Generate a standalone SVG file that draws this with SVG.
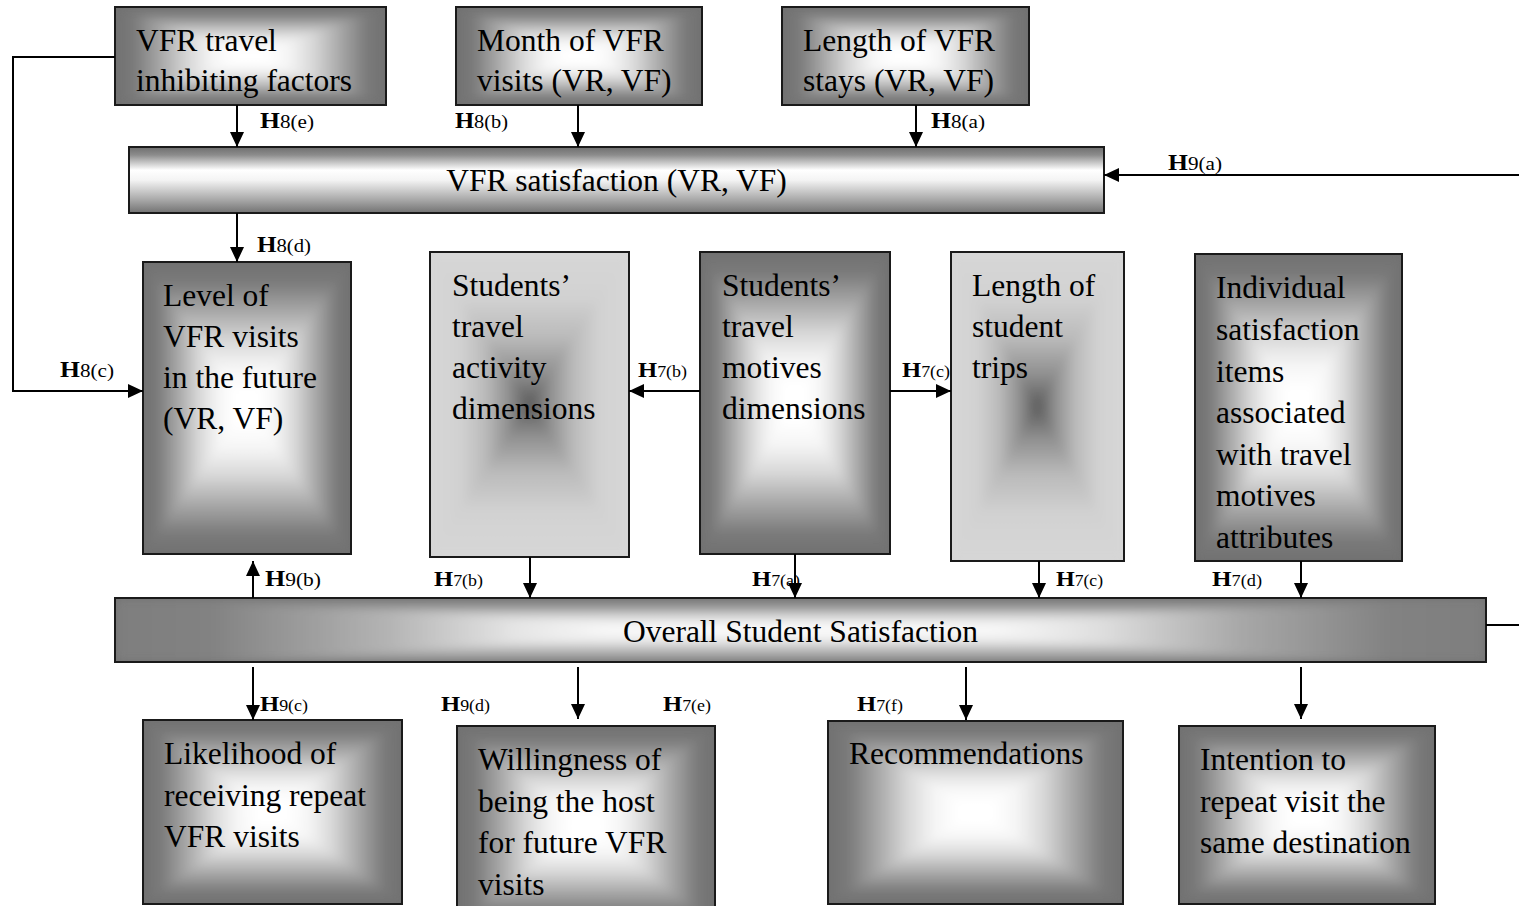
<svg xmlns="http://www.w3.org/2000/svg" width="1519" height="906" viewBox="0 0 1519 906">
  <style>
    .frame { fill: none; stroke: #1a1a1a; stroke-width: 2; }
    .dk { mix-blend-mode: darken; }
    .lt { mix-blend-mode: lighten; }
    .shade { isolation: isolate; filter: url(#soft); }
    .base-d { fill: #717171; }
    .base-l { fill: #d6d6d6; }
    .t { font-family: "Liberation Serif", "Times New Roman", serif; font-size: 31.5px; fill: #000; }
    .lbl { font-family: "Liberation Serif", "Times New Roman", serif; font-size: 19px; fill: #000; }
    .lbl.s { font-size: 16px; }
    .hb { font-weight: bold; font-size: 23px; }
    .s .hb { font-size: 22px; }
    .edge { fill: none; stroke: #000; stroke-width: 2; }
  </style>
  <defs>
    <!-- softens the corners of the box shading, kept inside the box -->
    <filter id="soft" x="0" y="0" width="1" height="1">
      <feGaussianBlur in="SourceGraphic" stdDeviation="5" result="b"/>
      <feComposite in="b" in2="SourceGraphic" operator="in"/>
    </filter>
    <!-- dark edges, white centre (horizontal and vertical ramps combined with darken blend) -->
    <linearGradient id="gHd" x1="0" y1="0" x2="1" y2="0">
      <stop offset="0" stop-color="#717171"/>
      <stop offset="0.07" stop-color="#7a7a7a"/>
      <stop offset="0.17" stop-color="#a8a8a8"/>
      <stop offset="0.27" stop-color="#d8d8d8"/>
      <stop offset="0.36" stop-color="#f5f5f5"/>
      <stop offset="0.44" stop-color="#ffffff"/>
      <stop offset="0.56" stop-color="#ffffff"/>
      <stop offset="0.64" stop-color="#f5f5f5"/>
      <stop offset="0.73" stop-color="#d8d8d8"/>
      <stop offset="0.83" stop-color="#a8a8a8"/>
      <stop offset="0.93" stop-color="#7a7a7a"/>
      <stop offset="1" stop-color="#717171"/>
    </linearGradient>
    <linearGradient id="gVd" href="#gHd" x1="0" y1="0" x2="0" y2="1"/>
    <!-- light edges, dark centre (combined with lighten blend) -->
    <linearGradient id="gHl" x1="0" y1="0" x2="1" y2="0">
      <stop offset="0" stop-color="#d6d6d6"/>
      <stop offset="0.15" stop-color="#d2d2d2"/>
      <stop offset="0.28" stop-color="#bababa"/>
      <stop offset="0.4" stop-color="#8e8e8e"/>
      <stop offset="0.5" stop-color="#5a5a5a"/>
      <stop offset="0.6" stop-color="#8e8e8e"/>
      <stop offset="0.72" stop-color="#bababa"/>
      <stop offset="0.85" stop-color="#d2d2d2"/>
      <stop offset="1" stop-color="#d6d6d6"/>
    </linearGradient>
    <linearGradient id="gVl" href="#gHl" x1="0" y1="0" x2="0" y2="1"/>
    <!-- cylinder shading of the VFR satisfaction bar -->
    <linearGradient id="gBarTop" x1="0" y1="0" x2="0" y2="1">
      <stop offset="0" stop-color="#6e6e6e"/>
      <stop offset="0.12" stop-color="#8c8c8c"/>
      <stop offset="0.35" stop-color="#ffffff"/>
      <stop offset="0.5" stop-color="#f4f4f4"/>
      <stop offset="0.8" stop-color="#a8a8a8"/>
      <stop offset="1" stop-color="#727272"/>
    </linearGradient>
    <!-- overall satisfaction bar -->
    <linearGradient id="gBarH" x1="0" y1="0" x2="1" y2="0">
      <stop offset="0" stop-color="#7e7e7e"/>
      <stop offset="0.07" stop-color="#828282"/>
      <stop offset="0.2" stop-color="#b4b4b4"/>
      <stop offset="0.29" stop-color="#e4e4e4"/>
      <stop offset="0.36" stop-color="#f8f8f8"/>
      <stop offset="0.5" stop-color="#ffffff"/>
      <stop offset="0.64" stop-color="#f8f8f8"/>
      <stop offset="0.72" stop-color="#dedede"/>
      <stop offset="0.82" stop-color="#a8a8a8"/>
      <stop offset="0.93" stop-color="#828282"/>
      <stop offset="1" stop-color="#7e7e7e"/>
    </linearGradient>
    <linearGradient id="gBarV" x1="0" y1="0" x2="0" y2="1">
      <stop offset="0" stop-color="#7a7a7a"/>
      <stop offset="0.12" stop-color="#8c8c8c"/>
      <stop offset="0.25" stop-color="#c8c8c8"/>
      <stop offset="0.36" stop-color="#ececec"/>
      <stop offset="0.5" stop-color="#ffffff"/>
      <stop offset="0.68" stop-color="#e8e8e8"/>
      <stop offset="0.84" stop-color="#b0b0b0"/>
      <stop offset="1" stop-color="#858585"/>
    </linearGradient>
    <marker id="arr" markerUnits="userSpaceOnUse" markerWidth="15" markerHeight="14" refX="15" refY="7" orient="auto">
      <path d="M0,0 L15,7 L0,14 z" fill="#000"/>
    </marker>
  </defs>

  <rect width="1519" height="906" fill="#fff"/>

  <!-- top row -->
  <g id="n-inhibiting">
    <rect x="115" y="7" width="271" height="98" class="base-d"/>
    <g class="shade">
      <rect x="115" y="7" width="271" height="98" fill="url(#gHd)"/>
      <rect x="115" y="7" width="271" height="98" fill="url(#gVd)" class="dk"/>
    </g>
    <rect x="115" y="7" width="271" height="98" class="frame"/>
    <text class="t"><tspan x="136" y="51">VFR travel</tspan><tspan x="136" y="91">inhibiting factors</tspan></text>
  </g>
  <g id="n-month">
    <rect x="456" y="7" width="246" height="98" class="base-d"/>
    <g class="shade">
      <rect x="456" y="7" width="246" height="98" fill="url(#gHd)"/>
      <rect x="456" y="7" width="246" height="98" fill="url(#gVd)" class="dk"/>
    </g>
    <rect x="456" y="7" width="246" height="98" class="frame"/>
    <text class="t"><tspan x="477" y="51">Month of VFR</tspan><tspan x="477" y="91">visits (VR, VF)</tspan></text>
  </g>
  <g id="n-length-stays">
    <rect x="782" y="7" width="247" height="98" class="base-d"/>
    <g class="shade">
      <rect x="782" y="7" width="247" height="98" fill="url(#gHd)"/>
      <rect x="782" y="7" width="247" height="98" fill="url(#gVd)" class="dk"/>
    </g>
    <rect x="782" y="7" width="247" height="98" class="frame"/>
    <text class="t"><tspan x="803" y="51">Length of VFR</tspan><tspan x="803" y="91">stays (VR, VF)</tspan></text>
  </g>

  <g id="n-vfr-satisfaction">
    <rect x="129" y="147" width="975" height="66" fill="url(#gBarTop)"/>
    <rect x="129" y="147" width="975" height="66" class="frame"/>
    <text class="t" x="616.5" y="191" text-anchor="middle">VFR satisfaction (VR, VF)</text>
  </g>

  <!-- middle row -->
  <g id="n-level-future">
    <rect x="143" y="262" width="208" height="292" class="base-d"/>
    <g class="shade">
      <rect x="143" y="262" width="208" height="292" fill="url(#gHd)"/>
      <rect x="143" y="262" width="208" height="292" fill="url(#gVd)" class="dk"/>
    </g>
    <rect x="143" y="262" width="208" height="292" class="frame"/>
    <text class="t"><tspan x="163" y="306">Level of</tspan><tspan x="163" y="347">VFR visits</tspan><tspan x="163" y="388">in the future</tspan><tspan x="163" y="429">(VR, VF)</tspan></text>
  </g>
  <g id="n-activity">
    <rect x="430" y="252" width="199" height="305" class="base-l"/>
    <g class="shade">
      <rect x="430" y="252" width="199" height="305" fill="url(#gHl)"/>
      <rect x="430" y="252" width="199" height="305" fill="url(#gVl)" class="lt"/>
    </g>
    <rect x="430" y="252" width="199" height="305" class="frame"/>
    <text class="t"><tspan x="452" y="296">Students’</tspan><tspan x="452" y="337">travel</tspan><tspan x="452" y="378">activity</tspan><tspan x="452" y="419">dimensions</tspan></text>
  </g>
  <g id="n-motives">
    <rect x="700" y="252" width="190" height="302" class="base-d"/>
    <g class="shade">
      <rect x="700" y="252" width="190" height="302" fill="url(#gHd)"/>
      <rect x="700" y="252" width="190" height="302" fill="url(#gVd)" class="dk"/>
    </g>
    <rect x="700" y="252" width="190" height="302" class="frame"/>
    <text class="t"><tspan x="722" y="296">Students’</tspan><tspan x="722" y="337">travel</tspan><tspan x="722" y="378">motives</tspan><tspan x="722" y="419">dimensions</tspan></text>
  </g>
  <g id="n-trip-length">
    <rect x="951" y="252" width="173" height="309" class="base-l"/>
    <g class="shade">
      <rect x="951" y="252" width="173" height="309" fill="url(#gHl)"/>
      <rect x="951" y="252" width="173" height="309" fill="url(#gVl)" class="lt"/>
    </g>
    <rect x="951" y="252" width="173" height="309" class="frame"/>
    <text class="t"><tspan x="972" y="296">Length of</tspan><tspan x="972" y="337">student</tspan><tspan x="972" y="378">trips</tspan></text>
  </g>
  <g id="n-items">
    <rect x="1195" y="254" width="207" height="307" class="base-d"/>
    <g class="shade">
      <rect x="1195" y="254" width="207" height="307" fill="url(#gHd)"/>
      <rect x="1195" y="254" width="207" height="307" fill="url(#gVd)" class="dk"/>
    </g>
    <rect x="1195" y="254" width="207" height="307" class="frame"/>
    <text class="t"><tspan x="1216" y="298">Individual</tspan><tspan x="1216" y="340">satisfaction</tspan><tspan x="1216" y="382">items</tspan><tspan x="1216" y="423">associated</tspan><tspan x="1216" y="465">with travel</tspan><tspan x="1216" y="506">motives</tspan><tspan x="1216" y="548">attributes</tspan></text>
  </g>

  <g id="n-overall">
    <rect x="115" y="598" width="1371" height="64" class="base-d"/>
    <g class="shade">
      <rect x="115" y="598" width="1371" height="64" fill="url(#gBarH)"/>
      <rect x="115" y="598" width="1371" height="64" fill="url(#gBarV)" class="dk"/>
    </g>
    <rect x="115" y="598" width="1371" height="64" class="frame"/>
    <text class="t" x="800.5" y="642" text-anchor="middle">Overall Student Satisfaction</text>
  </g>

  <!-- outcomes -->
  <g id="n-likelihood">
    <rect x="143" y="720" width="259" height="184" class="base-d"/>
    <g class="shade">
      <rect x="143" y="720" width="259" height="184" fill="url(#gHd)"/>
      <rect x="143" y="720" width="259" height="184" fill="url(#gVd)" class="dk"/>
    </g>
    <rect x="143" y="720" width="259" height="184" class="frame"/>
    <text class="t"><tspan x="164" y="764">Likelihood of</tspan><tspan x="164" y="806">receiving repeat</tspan><tspan x="164" y="847">VFR visits</tspan></text>
  </g>
  <g id="n-willingness">
    <rect x="457" y="726" width="258" height="200" class="base-d"/>
    <g class="shade">
      <rect x="457" y="726" width="258" height="200" fill="url(#gHd)"/>
      <rect x="457" y="726" width="258" height="200" fill="url(#gVd)" class="dk"/>
    </g>
    <rect x="457" y="726" width="258" height="200" class="frame"/>
    <text class="t"><tspan x="478" y="770">Willingness of</tspan><tspan x="478" y="812">being the host</tspan><tspan x="478" y="853">for future VFR</tspan><tspan x="478" y="895">visits</tspan></text>
  </g>
  <g id="n-recommendations">
    <rect x="828" y="721" width="295" height="183" class="base-d"/>
    <g class="shade">
      <rect x="828" y="721" width="295" height="183" fill="url(#gHd)"/>
      <rect x="828" y="721" width="295" height="183" fill="url(#gVd)" class="dk"/>
    </g>
    <rect x="828" y="721" width="295" height="183" class="frame"/>
    <text class="t" x="849" y="764">Recommendations</text>
  </g>
  <g id="n-intention">
    <rect x="1179" y="726" width="256" height="178" class="base-d"/>
    <g class="shade">
      <rect x="1179" y="726" width="256" height="178" fill="url(#gHd)"/>
      <rect x="1179" y="726" width="256" height="178" fill="url(#gVd)" class="dk"/>
    </g>
    <rect x="1179" y="726" width="256" height="178" class="frame"/>
    <text class="t"><tspan x="1200" y="770">Intention to</tspan><tspan x="1200" y="812">repeat visit the</tspan><tspan x="1200" y="853">same destination</tspan></text>
  </g>

  <!-- hypothesis labels -->
  <g id="edge-labels">
    <text class="lbl" x="260" y="128" textLength="54" lengthAdjust="spacingAndGlyphs"><tspan class="hb">H</tspan>8(e)</text>
    <text class="lbl" x="455" y="128" textLength="53" lengthAdjust="spacingAndGlyphs"><tspan class="hb">H</tspan>8(b)</text>
    <text class="lbl" x="931" y="128" textLength="54" lengthAdjust="spacingAndGlyphs"><tspan class="hb">H</tspan>8(a)</text>
    <text class="lbl" x="1168" y="170" textLength="54" lengthAdjust="spacingAndGlyphs"><tspan class="hb">H</tspan>9(a)</text>
    <text class="lbl" x="257" y="252" textLength="54" lengthAdjust="spacingAndGlyphs"><tspan class="hb">H</tspan>8(d)</text>
    <text class="lbl" x="60" y="377" textLength="54" lengthAdjust="spacingAndGlyphs"><tspan class="hb">H</tspan>8(c)</text>
    <text class="lbl s" x="638" y="377" textLength="49" lengthAdjust="spacingAndGlyphs"><tspan class="hb">H</tspan>7(b)</text>
    <text class="lbl s" x="902" y="377" textLength="48" lengthAdjust="spacingAndGlyphs"><tspan class="hb">H</tspan>7(c)</text>
    <text class="lbl" x="265" y="586" textLength="56" lengthAdjust="spacingAndGlyphs"><tspan class="hb">H</tspan>9(b)</text>
    <text class="lbl s" x="434" y="586" textLength="49" lengthAdjust="spacingAndGlyphs"><tspan class="hb">H</tspan>7(b)</text>
    <text class="lbl s" x="752" y="586" textLength="48" lengthAdjust="spacingAndGlyphs"><tspan class="hb">H</tspan>7(a)</text>
    <text class="lbl s" x="1056" y="586" textLength="47" lengthAdjust="spacingAndGlyphs"><tspan class="hb">H</tspan>7(c)</text>
    <text class="lbl s" x="1212" y="586" textLength="50" lengthAdjust="spacingAndGlyphs"><tspan class="hb">H</tspan>7(d)</text>
    <text class="lbl s" x="260" y="711" textLength="48" lengthAdjust="spacingAndGlyphs"><tspan class="hb">H</tspan>9(c)</text>
    <text class="lbl s" x="441" y="711" textLength="49" lengthAdjust="spacingAndGlyphs"><tspan class="hb">H</tspan>9(d)</text>
    <text class="lbl s" x="663" y="711" textLength="48" lengthAdjust="spacingAndGlyphs"><tspan class="hb">H</tspan>7(e)</text>
    <text class="lbl s" x="857" y="711" textLength="46" lengthAdjust="spacingAndGlyphs"><tspan class="hb">H</tspan>7(f)</text>
  </g>

  <!-- connectors -->
  <g id="connectors">
    <path class="edge" d="M115,57 H13 V391 H143" marker-end="url(#arr)"/>
    <path class="edge" d="M237,105 V147" marker-end="url(#arr)"/>
    <path class="edge" d="M578,105 V147" marker-end="url(#arr)"/>
    <path class="edge" d="M916,105 V147" marker-end="url(#arr)"/>
    <path class="edge" d="M1519,175 H1104" marker-end="url(#arr)"/>
    <path class="edge" d="M237,213 V262" marker-end="url(#arr)"/>
    <path class="edge" d="M700,391 H629" marker-end="url(#arr)"/>
    <path class="edge" d="M890,391 H951" marker-end="url(#arr)"/>
    <path class="edge" d="M253,598 V561" marker-end="url(#arr)"/>
    <path class="edge" d="M530,557 V598" marker-end="url(#arr)"/>
    <path class="edge" d="M795,554 V598" marker-end="url(#arr)"/>
    <path class="edge" d="M1039,561 V598" marker-end="url(#arr)"/>
    <path class="edge" d="M1301,561 V598" marker-end="url(#arr)"/>
    <path class="edge" d="M1486,625 H1519"/>
    <path class="edge" d="M253,667 V720" marker-end="url(#arr)"/>
    <path class="edge" d="M578,667 V719" marker-end="url(#arr)"/>
    <path class="edge" d="M966,667 V720" marker-end="url(#arr)"/>
    <path class="edge" d="M1301,667 V719" marker-end="url(#arr)"/>
  </g>
</svg>
